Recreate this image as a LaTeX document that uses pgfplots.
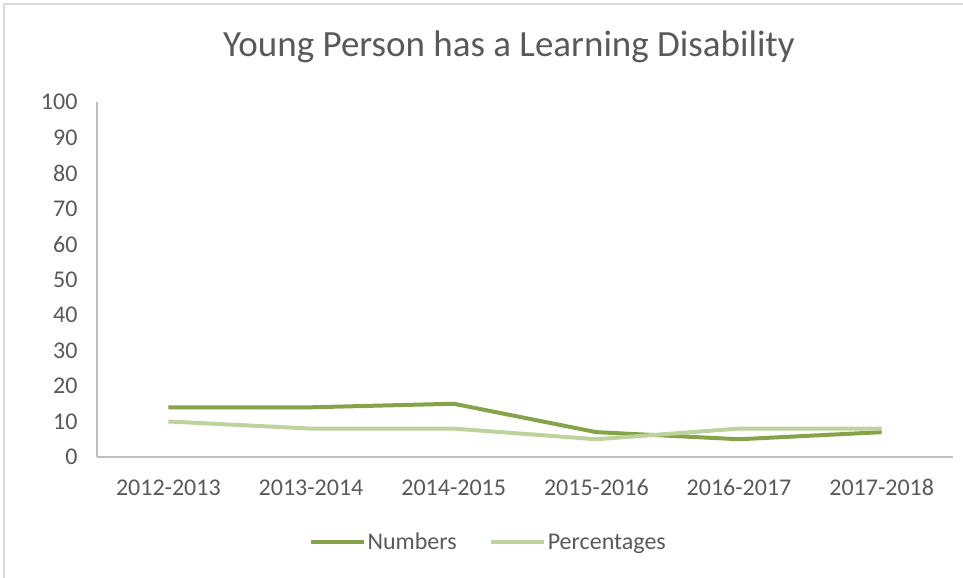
\documentclass[border=0pt]{standalone}
\usepackage{fontspec}
\setmainfont{Carlito}
\usepackage{pgfplots}
\pgfplotsset{compat=1.18}
\definecolor{TextGray}{HTML}{595959}
\definecolor{AxisGray}{HTML}{BFBFBF}
\definecolor{FrameGray}{HTML}{D9D9D9}
\definecolor{NumGreen}{HTML}{86A34A}
\definecolor{PctGreen}{HTML}{BDD39C}

\begin{document}
\begin{tikzpicture}
\useasboundingbox (0,0) rectangle (963bp,578bp);
\draw[FrameGray,line width=1.2bp] (4bp,-10bp) |- (980bp,574bp);
\node[TextGray,font=\fontsize{37bp}{42bp}\selectfont] at (509bp,531bp) {Young Person has a Learning Disability};
\begin{axis}[
  at={(97bp,121bp)},anchor=south west,
  scale only axis,width=856bp,height=355bp,
  xmin=-0.5,xmax=5.5,ymin=0,ymax=100,
  ytick={0,10,...,100},xtick={0,...,5},
  xticklabels={2012-2013,2013-2014,2014-2015,2015-2016,2016-2017,2017-2018},
  axis lines*=left,
  axis line style={draw=AxisGray,line width=1.5bp},
  tick style={draw=none},
  /pgf/number format/assume math mode=true,
  tick label style={font=\fontsize{24bp}{28bp}\selectfont,text=TextGray},
  yticklabel style={xshift=-16bp},
  xticklabel style={yshift=-19bp},
  legend style={at={(axis description cs:0.457,-0.24)},anchor=center,draw=none,fill=none,
    legend columns=2,font=\fontsize{24bp}{28bp}\selectfont,text=TextGray,
    /tikz/every even column/.append style={column sep=30bp}},
  legend image code/.code={\draw[#1] (0bp,0bp) -- (53bp,0bp);},
  clip=false,
]
\addplot[NumGreen,line width=4bp] coordinates {(0,14) (1,14) (2,15) (3,7) (4,5) (5,7)};
\addlegendentry{Numbers}
\addplot[PctGreen,line width=4bp] coordinates {(0,10) (1,8) (2,8) (3,5) (4,8) (5,8)};
\addlegendentry{Percentages}
\end{axis}
\end{tikzpicture}
\end{document}
